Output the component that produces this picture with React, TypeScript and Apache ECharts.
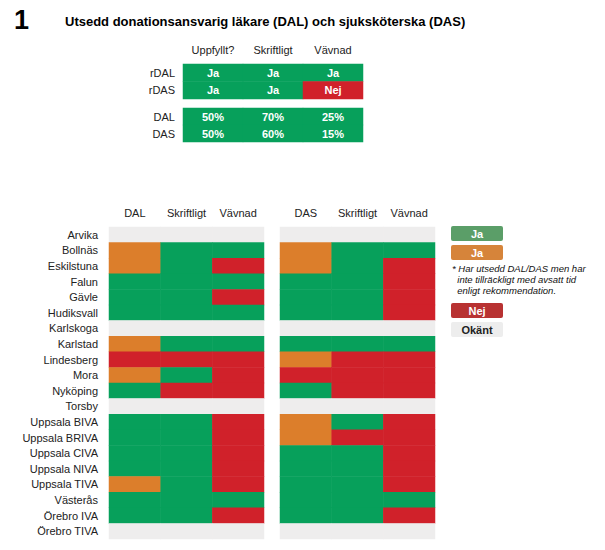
import React, { useEffect, useRef } from "react";
import * as echarts from "echarts";

const topCols = ["Uppfyllt?", "Skriftligt", "Vävnad"];
const reqRows = ["rDAL", "rDAS"];
const reqValues = [
  ["Ja", "Ja", "Ja"],
  ["Ja", "Ja", "Nej"],
];
const pctRows = ["DAL", "DAS"];
const pctValues = [
  [50, 70, 25],
  [50, 60, 15],
];

const units = [
  "Arvika", "Bollnäs", "Eskilstuna", "Falun", "Gävle", "Hudiksvall", "Karlskoga",
  "Karlstad", "Lindesberg", "Mora", "Nyköping", "Torsby", "Uppsala BIVA",
  "Uppsala BRIVA", "Uppsala CIVA", "Uppsala NIVA", "Uppsala TIVA", "Västerås",
  "Örebro IVA", "Örebro TIVA",
];
const dalCols = ["DAL", "Skriftligt", "Vävnad"];
const dasCols = ["DAS", "Skriftligt", "Vävnad"];
// J = Ja, S = Ja* (otillräcklig tid), N = Nej, U = Okänt
const dalStatus = [
  "UUU", "SJJ", "SJN", "JJJ", "JJN", "JJJ", "UUU", "SJJ", "NNN", "SJN",
  "JNN", "UUU", "JJN", "JJN", "JJN", "JJN", "SJN", "JJJ", "JJN", "UUU",
];
const dasStatus = [
  "UUU", "SJJ", "SJN", "JJN", "JJN", "JJN", "UUU", "JJJ", "SNN", "NNN",
  "JNN", "UUU", "SJN", "SNN", "JJN", "JJN", "JJN", "JJJ", "JJN", "UUU",
];

const GREEN = "#07A05B";
const ORANGE = "#DC7E2B";
const RED = "#D0212A";
const GRAY = "#EEEDED";
const codeNum: Record<string, number> = { U: 0, J: 1, S: 2, N: 3 };
const FONT = "Arial, 'Liberation Sans', sans-serif";

export default function App() {
  const ref = useRef<HTMLDivElement>(null);
  useEffect(() => {
    if (!ref.current) return;
    const chart = echarts.init(ref.current, undefined, { renderer: "svg" });

    const reqData: any[] = [];
    reqValues.forEach((row, r) =>
      row.forEach((v, c) => reqData.push([c, r, v === "Ja" ? 1 : 3, v]))
    );
    const pctData: any[] = [];
    pctValues.forEach((row, r) =>
      row.forEach((v, c) => pctData.push([c, r, 1, v + "%"]))
    );
    const mk = (status: string[]) => {
      const d: any[] = [];
      status.forEach((s, r) =>
        s.split("").forEach((code, c) => d.push([c, r, codeNum[code], code]))
      );
      return d;
    };

    const hidden = { show: false };
    const xAx = (gridIndex: number, data: string[], show: boolean, margin: number) => ({
      type: "category",
      gridIndex,
      data,
      position: "top",
      axisLine: hidden,
      axisTick: hidden,
      splitLine: hidden,
      splitArea: hidden,
      axisLabel: { show, margin, fontSize: 11, color: "#222", fontFamily: FONT },
    });
    const yAx = (gridIndex: number, data: string[], show: boolean, margin: number) => ({
      type: "category",
      gridIndex,
      data,
      inverse: true,
      axisLine: hidden,
      axisTick: hidden,
      splitLine: hidden,
      splitArea: hidden,
      axisLabel: { show, margin, fontSize: 11, color: "#222", fontFamily: FONT },
    });

    const cellLabel = {
      show: true,
      color: "#fff",
      fontWeight: "bold",
      fontSize: 11,
      fontFamily: FONT,
      formatter: (p: any) => p.value[3],
    };

    const legendBox = (y: number, color: string, text: string, textColor: string) => [
      { type: "rect", shape: { x: 451, y, width: 52, height: 15, r: 2 }, style: { fill: color } },
      {
        type: "text",
        x: 477,
        y: y + 7.5,
        style: {
          text,
          fill: textColor,
          font: `bold 11px ${FONT}`,
          textAlign: "center",
          textVerticalAlign: "middle",
        },
      },
    ];

    chart.setOption({
      animation: false,
      visualMap: {
        type: "piecewise",
        show: false,
        dimension: 2,
        seriesIndex: [0, 1, 2, 3],
        pieces: [
          { value: 0, color: GRAY },
          { value: 1, color: GREEN },
          { value: 2, color: ORANGE },
          { value: 3, color: RED },
        ],
      },
      grid: [
        { left: 183, top: 64, width: 180, height: 35 },
        { left: 183, top: 108, width: 180, height: 34 },
        { left: 109, top: 227, width: 155, height: 312 },
        { left: 280, top: 227, width: 155, height: 312 },
      ],
      xAxis: [
        xAx(0, topCols, true, 9),
        xAx(1, topCols, false, 8),
        xAx(2, dalCols, true, 9),
        xAx(3, dasCols, true, 9),
      ],
      yAxis: [
        yAx(0, reqRows, true, 8),
        yAx(1, pctRows, true, 8),
        yAx(2, units, true, 11),
        yAx(3, units, false, 11),
      ],
      series: [
        { type: "heatmap", xAxisIndex: 0, yAxisIndex: 0, data: reqData, label: cellLabel },
        { type: "heatmap", xAxisIndex: 1, yAxisIndex: 1, data: pctData, label: cellLabel },
        { type: "heatmap", xAxisIndex: 2, yAxisIndex: 2, data: mk(dalStatus) },
        { type: "heatmap", xAxisIndex: 3, yAxisIndex: 3, data: mk(dasStatus) },
      ],
      graphic: [
        {
          type: "text",
          x: 14,
          y: 6,
          style: { text: "1", fill: "#000", font: `bold 27px ${FONT}` },
        },
        {
          type: "text",
          x: 65,
          y: 15,
          style: {
            text: "Utsedd donationsansvarig läkare (DAL) och sjuksköterska (DAS)",
            fill: "#000",
            font: `bold 13px ${FONT}`,
          },
        },
        ...legendBox(226, "#5B9E68", "Ja", "#fff"),
        ...legendBox(245, "#D6843A", "Ja", "#fff"),
        {
          type: "text",
          x: 452,
          y: 263,
          style: {
            text: "* Har utsedd DAL/DAS men har\n  inte tillräckligt med avsatt tid\n  enligt rekommendation.",
            fill: "#111",
            font: `italic 9.5px ${FONT}`,
            lineHeight: 11,
          },
        },
        ...legendBox(303, "#B83232", "Nej", "#fff"),
        ...legendBox(322, "#EDEDED", "Okänt", "#222"),
      ],
    });
    return () => chart.dispose();
  }, []);
  return (
    <div
      ref={ref}
      style={{ position: "absolute", left: 0, top: 0, width: 605, height: 550 }}
    />
  );
}
